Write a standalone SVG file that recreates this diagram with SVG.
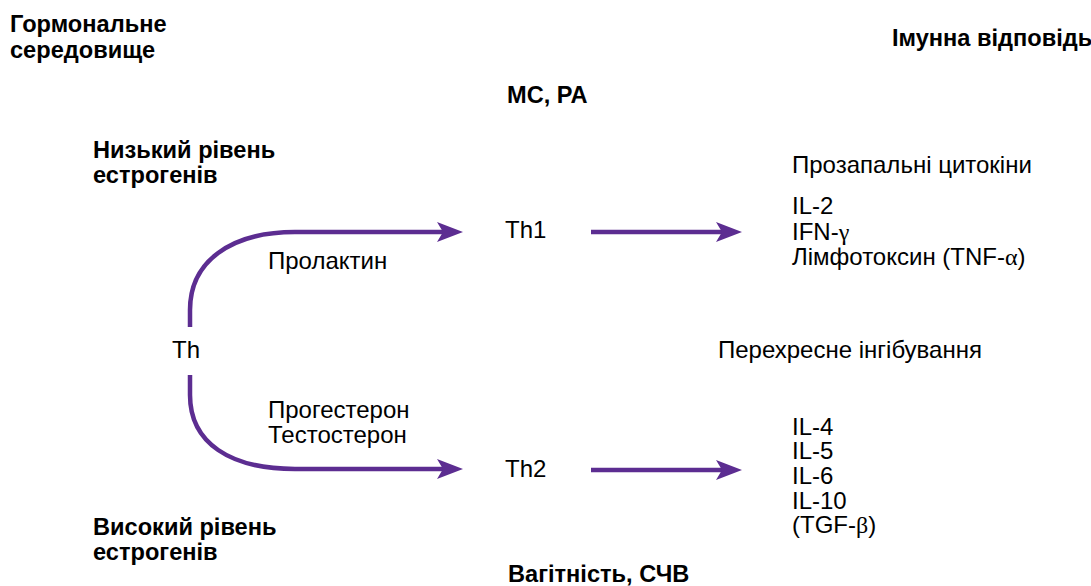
<svg xmlns="http://www.w3.org/2000/svg" width="1091" height="586" viewBox="0 0 1091 586">
<style>
text{font-family:"Liberation Sans",Arial,Helvetica,sans-serif;font-size:24px;fill:#000}
.b{font-weight:bold;font-size:23.6px}
.g{font-family:"Liberation Serif","Times New Roman",serif}
.c{fill:none;stroke:#5c2d91;stroke-width:4.5;marker-end:url(#ah)}
</style>
<defs>
<marker id="ah" markerUnits="userSpaceOnUse" markerWidth="28" markerHeight="22" refX="6" refY="10" orient="auto" viewBox="0 0 28 20">
<path d="M0,0 L26,10 L0,20 L6,10 Z" fill="#5c2d91"/>
</marker>
</defs>
<g id="headers">
<text class="b" x="10" y="32">Гормональне</text>
<text class="b" x="10" y="58">середовище</text>
<text class="b" x="892" y="46">Імунна відповідь</text>
</g>
<g id="ms-ra"><text class="b" x="507" y="103">МС, РА</text></g>
<g id="low-estrogen">
<text class="b" x="93" y="158">Низький рівень</text>
<text class="b" x="93" y="183">естрогенів</text>
</g>
<g id="high-estrogen">
<text class="b" x="93" y="535">Високий рівень</text>
<text class="b" x="93" y="560">естрогенів</text>
</g>
<g id="pregnancy"><text class="b" x="508" y="582">Вагітність, СЧВ</text></g>
<g id="th"><text x="172" y="358">Th</text></g>
<g id="th1"><text x="505" y="238">Th1</text></g>
<g id="th2"><text x="505" y="477">Th2</text></g>
<g id="prolactin"><text x="268" y="269">Пролактин</text></g>
<g id="progesterone">
<text x="268" y="418">Прогестерон</text>
<text x="268" y="443">Тестостерон</text>
</g>
<g id="proinflammatory">
<text x="792" y="173">Прозапальні цитокіни</text>
<text x="792" y="214">IL-2</text>
<text x="792" y="240">IFN-<tspan class="g">γ</tspan></text>
<text x="792" y="265">Лімфотоксин (TNF-<tspan class="g">α</tspan>)</text>
</g>
<g id="cross"><text x="718" y="358">Перехресне інгібування</text></g>
<g id="th2-cytokines">
<text x="792" y="435">IL-4</text>
<text x="792" y="459">IL-5</text>
<text x="792" y="484">IL-6</text>
<text x="792" y="509">IL-10</text>
<text x="792" y="533">(TGF-<tspan class="g">β</tspan>)</text>
</g>
<g id="connectors">
<path class="c" d="M190,327 L190,310 C190,262 230,232 295,232 L443,232"/>
<path class="c" d="M190,375 L190,395 C190,443 230,469 295,469 L443,469"/>
<path class="c" d="M591,232 L722,232"/>
<path class="c" d="M591,470 L722,470"/>
</g>
</svg>
